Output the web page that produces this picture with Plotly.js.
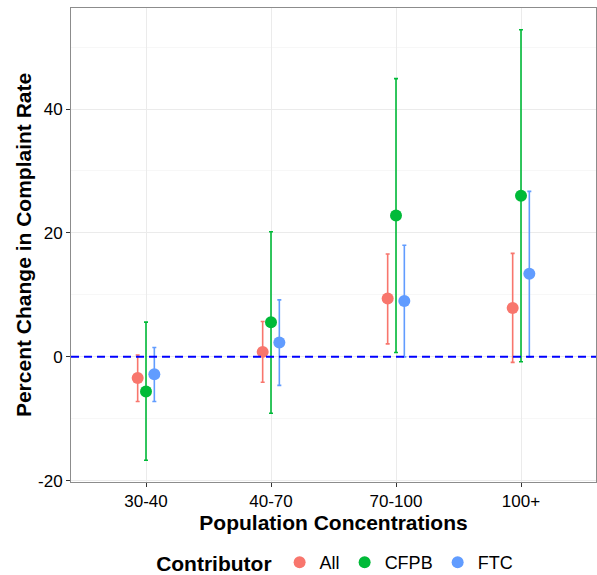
<!DOCTYPE html>
<html>
<head>
<meta charset="utf-8">
<script src="https://cdn.plot.ly/plotly-3.0.1.min.js"></script>
<style>
  html, body { margin: 0; padding: 0; background: #fff; }
  #chart { width: 597px; height: 575px; }
</style>
</head>
<body>
<div id="chart"></div>
<script>
// population concentration buckets on the x axis
const categories = ["30-40", "40-70", "70-100", "100+"];

// point estimates (percent change in complaint rate)
const allEst  = [-3.4, 0.8, 9.4, 7.9];
const cfpbEst = [-5.6, 5.6, 22.8, 26.0];
const ftcEst  = [-2.8, 2.3, 9.0, 13.4];

// confidence interval bounds
const allLow   = [-7.2, -4.1, 2.1, -0.9];
const allHigh  = [0.3, 5.7, 16.6, 16.7];
const cfpbLow  = [-16.7, -9.1, 0.7, -0.8];
const cfpbHigh = [5.6, 20.2, 44.9, 52.8];
const ftcLow   = [-7.2, -4.6, 0.0, 0.0];
const ftcHigh  = [1.5, 9.2, 18.0, 26.7];

const yTicks = [-20, 0, 20, 40];

function makeTrace(name, est, low, high, color) {
  return {
    type: "scatter",
    mode: "markers",
    name: name,
    x: categories,
    y: est,
    marker: { color: color, size: 12 },
    error_y: {
      type: "data",
      symmetric: false,
      array: high.map((h, i) => h - est[i]),
      arrayminus: est.map((e, i) => e - low[i]),
      color: color,
      thickness: 1.6,
      width: 2,
    },
  };
}

const traces = [
  makeTrace("All", allEst, allLow, allHigh, "#F8766D"),
  makeTrace("CFPB", cfpbEst, cfpbLow, cfpbHigh, "#00BA38"),
  makeTrace("FTC", ftcEst, ftcLow, ftcHigh, "#619CFF"),
];

const layout = {
  width: 597,
  height: 575,
  margin: { l: 71, r: 1, t: 8, b: 93, autoexpand: false },
  paper_bgcolor: "#fff",
  plot_bgcolor: "#fff",
  font: { family: "Liberation Sans, Arial, sans-serif", color: "#000", size: 17 },
  scattermode: "group",
  scattergap: 0.8,
  showlegend: true,
  legend: {
    orientation: "h",
    x: 0.505,
    xanchor: "center",
    y: -0.171,
    yanchor: "middle",
    title: { text: "<b>Contributor</b>", font: { size: 21 }, side: "left" },
    font: { size: 18 },
    itemwidth: 30,
  },
  xaxis: {
    type: "category",
    range: [-0.6, 3.6],
    showline: true,
    mirror: true,
    linecolor: "#8c8c8c",
    linewidth: 1,
    showgrid: true,
    gridcolor: "#ebebeb",
    ticks: "outside",
    ticklen: 4,
    tickcolor: "#333",
    tickfont: { size: 17, color: "#000" },
    zeroline: false,
    title: { text: "<b>Population Concentrations</b>", font: { size: 21 }, standoff: 1 },
  },
  yaxis: {
    range: [-20.2, 56.3],
    tickvals: yTicks,
    ticktext: yTicks.map(String),
    showline: true,
    mirror: true,
    linecolor: "#8c8c8c",
    linewidth: 1,
    showgrid: true,
    gridcolor: "#ebebeb",
    minor: { dtick: 10, tick0: 10, showgrid: true, gridcolor: "#f7f7f7", ticks: "" },
    ticks: "outside",
    ticklen: 4,
    tickcolor: "#333",
    tickfont: { size: 17, color: "#000" },
    zeroline: false,
  },
  annotations: [
    {
      text: "<b>Percent Change in Complaint Rate</b>",
      xref: "paper",
      yref: "paper",
      x: -0.0913,
      y: 0.5,
      xanchor: "center",
      yanchor: "middle",
      textangle: -90,
      showarrow: false,
      font: { size: 21, color: "#000" },
    },
  ],
  shapes: [
    {
      type: "line",
      xref: "paper",
      x0: 0,
      x1: 1,
      yref: "y",
      y0: 0,
      y1: 0,
      line: { color: "#0000ff", width: 2, dash: "8px,5px" },
      layer: "above",
    },
  ],
};

Plotly.newPlot("chart", traces, layout, { displayModeBar: false, staticPlot: true });
</script>
</body>
</html>
